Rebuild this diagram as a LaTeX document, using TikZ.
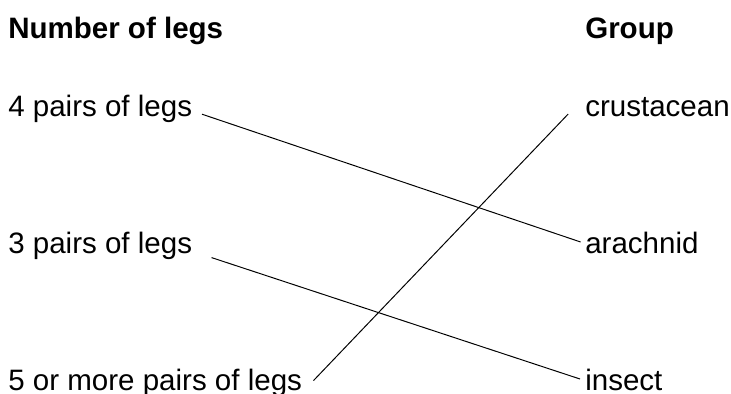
\documentclass[tikz,border=0pt]{standalone}
\usepackage{fontspec}
\setmainfont{Liberation Sans}
\usepackage{xcolor}
\usetikzlibrary{positioning, calc}
\definecolor{Canvas}{HTML}{FFFFFF}
\definecolor{Ink}{HTML}{000000}

\begin{document}
\begin{tikzpicture}[font=\fontsize{21}{25}\selectfont,headtext/.style={text=Ink, font=\fontsize{21}{25}\selectfont\bfseries, anchor=base west, inner sep=0pt},itemtext/.style={text=Ink, anchor=base west, inner sep=0pt},matchline/.style={draw=Ink, line width=0.7pt}]
\fill[Canvas] (0,0) rectangle (18.275,9.85);
\useasboundingbox (0,0) rectangle (18.275,9.85);
\node[headtext] (legshead) at (0.2,8.875) {Number of legs};
\node[headtext] (grouphead) at (14.625,8.875) {Group};
\node[itemtext] (four) at (0.2,6.925) {4 pairs of legs};
\node[itemtext] (three) at (0.2,3.5) {3 pairs of legs};
\node[itemtext] (five) at (0.2,0.075) {5 or more pairs of legs};
\node[itemtext] (crust) at (14.625,6.925) {crustacean};
\node[itemtext] (arach) at (14.625,3.5) {arachnid};
\node[itemtext] (insect) at (14.625,0.075) {insect};
\draw[matchline] ($(four.base east)+(0.24,0.07)$) -- ($(arach.base west)+(-0.11,0.3)$);
\draw[matchline] ($(three.base east)+(0.48,-0.09)$) -- ($(insect.base west)+(-0.125,0.3)$);
\draw[matchline] ($(five.base east)+(0.28,0.26)$) -- ($(crust.base west)+(-0.42,0.075)$);
\end{tikzpicture}
\end{document}
